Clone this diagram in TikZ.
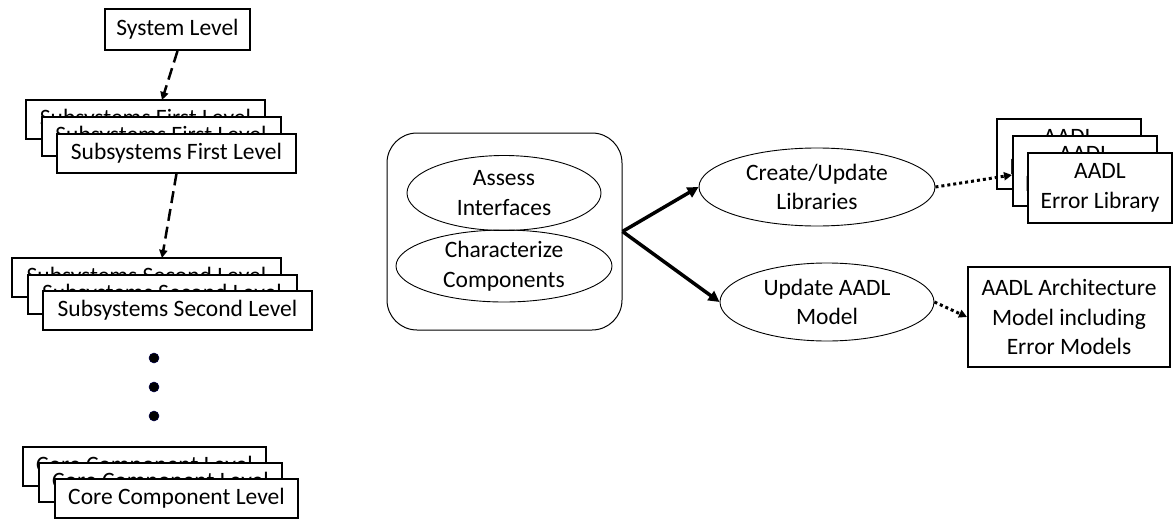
\documentclass[tikz,border=0pt]{standalone}
\usepackage{fontspec}
\setmainfont{Carlito}
\usetikzlibrary{arrows.meta,shapes.geometric}
\tikzset{
  box/.style={draw, line width=2pt, fill=white, inner sep=0pt, align=center},
  oval/.style={draw, ellipse, line width=0.9pt, inner sep=0pt, align=center},
  group/.style={draw, line width=1pt, rounded corners=30pt, inner sep=0pt},
  flow/.style={line width=3.5pt, -{Triangle[length=11pt,width=11pt]}},
  dashlink/.style={line width=2.5pt, dash pattern=on 12pt off 6pt, -{Triangle[length=8pt,width=8pt]}},
  dotlink/.style={line width=3pt, dash pattern=on 3pt off 3pt, -{Triangle[length=8pt,width=8pt]}},
  dot/.style={circle, fill=black, draw=black!70!blue, line width=0.5pt, minimum size=10pt, inner sep=0pt},
}
\begin{document}
\begin{tikzpicture}[x=1pt, y=-1pt, font=\fontsize{23.5}{29.5}\selectfont]
\useasboundingbox (0,0) rectangle (1173,519);

% left column: levels of the system hierarchy
\node[box, minimum width=145pt, minimum height=41pt] (sys) at (177.5,29.5) {System Level};

\foreach \k/\dx/\dy in {a/-31/-34, b/-15.5/-17, c/0/0}
  \node[box, minimum width=239pt, minimum height=39pt] (first\k) at (176.5+\dx,153+\dy) {Subsystems First Level};

\foreach \k/\dx/\dy in {a/-31/-33, b/-15.5/-16.5, c/0/0}
  \node[box, minimum width=269pt, minimum height=39pt] (second\k) at (177.5+\dx,310.5+\dy) {Subsystems Second Level};

\node[dot] (d1) at (154,358) {};
\node[dot] (d2) at (154,387) {};
\node[dot] (d3) at (154,416) {};

\foreach \k/\dx/\dy in {a/-32/-32, b/-16/-16, c/0/0}
  \node[box, minimum width=243pt, minimum height=39pt] (core\k) at (176.5+\dx,498.5+\dy) {Core Component Level};

\coordinate (in1) at (162,100);
\coordinate (in2) at (162,258);
\draw[dashlink] (sys.south) -- (in1);
\draw[dashlink] (firstc.south) -- (in2);

% middle: analysis activities
\node[group, minimum width=235pt, minimum height=197pt] (grp) at (504.5,231.5) {};
\node[oval, minimum width=194pt, minimum height=75pt] (assess) at (504,193) {Assess\\Interfaces};
\node[oval, minimum width=216pt, minimum height=72pt] (charz) at (504,266) {Characterize\\Components};

\node[oval, minimum width=236pt, minimum height=78pt] (create) at (817,187) {Create/Update\\Libraries};
\node[oval, minimum width=214pt, minimum height=78pt] (update) at (827,302) {Update AADL\\Model};

\draw[flow] (grp.east) -- (create.west);
\draw[flow] (grp.east) -- (update.west);

% right: produced artefacts
\foreach \k/\dx/\dy in {a/-31/-34, b/-15.5/-17, c/0/0}
  \node[box, minimum width=144pt, minimum height=70pt] (lib\k) at (1100+\dx,188+\dy) {AADL\\Error Library};

\node[box, minimum width=202pt, minimum height=100pt] (arch) at (1069,317) {AADL Architecture\\Model including\\Error Models};

\coordinate (libin) at (1012,175);
\draw[dotlink] (create.east) -- (libin);
\draw[dotlink] (update.east) -- (arch.west);
\end{tikzpicture}
\end{document}
